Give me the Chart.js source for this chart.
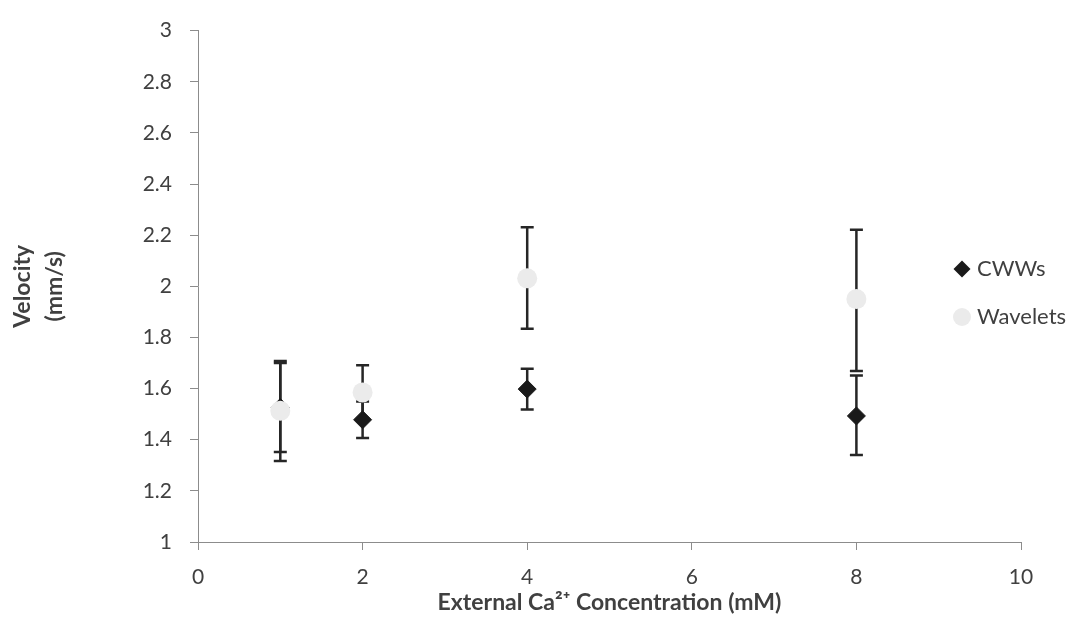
<!DOCTYPE html>
<html>
<head>
<meta charset="utf-8">
<script src="https://cdn.jsdelivr.net/npm/chart.js@4.4.1/dist/chart.umd.min.js"></script>
<style>
html, body { margin: 0; padding: 0; background: #fff; }
#wrap { width: 1081px; height: 633px; }
</style>
</head>
<body>
<div id="wrap"><canvas id="grafico"></canvas></div>
<script>
// DADOS
const concentracoes = [1, 2, 4, 8];

const cwwMedia = [1.526, 1.478, 1.598, 1.493];
const cwwBaixo = [1.352, 1.407, 1.518, 1.340];
const cwwAlto  = [1.700, 1.549, 1.678, 1.651];

const waveletMedia = [1.513, 1.585, 2.031, 1.950];
const waveletBaixo = [1.317, 1.480, 1.834, 1.669];
const waveletAlto  = [1.708, 1.691, 2.231, 2.221];

const ticksX = [0, 2, 4, 6, 8, 10];
const ticksY = [1, 1.2, 1.4, 1.6, 1.8, 2, 2.2, 2.4, 2.6, 2.8, 3];

const pontos = (xs, ys) => xs.map((x, i) => ({ x: x, y: ys[i] }));

Chart.defaults.font.family = "Lato";
Chart.defaults.color = "#404040";

// BARRAS DE ERRO (desenhadas antes dos pontos)
const barrasErro = {
    id: "barrasErro",
    beforeDatasetsDraw(chart) {
        const ctx = chart.ctx;
        const sx = chart.scales.x, sy = chart.scales.y;
        ctx.save();
        ctx.strokeStyle = "#262626";
        ctx.lineWidth = 2.5;
        chart.data.datasets.forEach(ds => {
            ds.data.forEach((p, i) => {
                const px = sx.getPixelForValue(p.x);
                const lo = sy.getPixelForValue(ds.errBaixo[i]);
                const hi = sy.getPixelForValue(ds.errAlto[i]);
                ctx.beginPath();
                ctx.moveTo(px, lo); ctx.lineTo(px, hi);
                ctx.moveTo(px - 6.5, lo); ctx.lineTo(px + 6.5, lo);
                ctx.moveTo(px - 6.5, hi); ctx.lineTo(px + 6.5, hi);
                ctx.stroke();
            });
        });
        ctx.restore();
    }
};

// LEGENDA
const legenda = {
    id: "legenda",
    afterDraw(chart) {
        const ctx = chart.ctx;
        const xm = chart.chartArea.right - 59;
        const linhas = [269, 317];
        ctx.save();
        ctx.font = "22px Lato";
        ctx.textBaseline = "middle";
        ctx.textAlign = "left";
        chart.data.datasets.forEach((ds, i) => {
            const y = linhas[i];
            ctx.fillStyle = ds.backgroundColor;
            ctx.beginPath();
            if (ds.pointStyle === "rectRot") {
                ctx.moveTo(xm - 8.5, y); ctx.lineTo(xm, y - 8.5);
                ctx.lineTo(xm + 8.5, y); ctx.lineTo(xm, y + 8.5);
                ctx.closePath();
            } else {
                ctx.arc(xm, y, 9, 0, Math.PI * 2);
            }
            ctx.fill();
            ctx.fillStyle = "#404040";
            ctx.fillText(ds.label, xm + 15, y);
        });
        ctx.restore();
    }
};

new Chart(document.getElementById("grafico"), {
    type: "scatter",
    data: {
        datasets: [
            {
                label: "CWWs",
                data: pontos(concentracoes, cwwMedia),
                errBaixo: cwwBaixo,
                errAlto: cwwAlto,
                pointStyle: "rectRot",
                pointRadius: 9,
                backgroundColor: "#1a1a1a",
                borderColor: "#1a1a1a",
                borderWidth: 1,
                order: 1
            },
            {
                label: "Wavelets",
                data: pontos(concentracoes, waveletMedia),
                errBaixo: waveletBaixo,
                errAlto: waveletAlto,
                pointStyle: "circle",
                pointRadius: 10,
                backgroundColor: "#ebebeb",
                borderWidth: 0,
                order: 0
            }
        ]
    },
    options: {
        responsive: true,
        maintainAspectRatio: false,
        animation: false,
        events: [],
        layout: { padding: { left: 0, right: 60, top: 20, bottom: 0 } },
        plugins: {
            legend: { display: false },
            tooltip: { enabled: false }
        },
        scales: {
            x: {
                type: "linear",
                min: 0,
                max: 10,
                afterBuildTicks: s => { s.ticks = ticksX.map(v => ({ value: v })); },
                afterFit: s => { s.height = 91; },
                ticks: { font: { size: 21 }, color: "#404040", padding: 15 },
                grid: { drawOnChartArea: false, tickLength: 8, color: "#8c8c8c" },
                border: { color: "#8c8c8c", width: 1 },
                title: {
                    display: true,
                    text: "External Ca²⁺ Concentration (mM)",
                    font: { size: 23, weight: "bold" },
                    color: "#404040",
                    padding: { top: 0, bottom: 17 }
                }
            },
            y: {
                type: "linear",
                min: 1,
                max: 3,
                afterBuildTicks: s => { s.ticks = ticksY.map(v => ({ value: v })); },
                afterFit: s => { s.width = 198; },
                ticks: {
                    font: { size: 21 },
                    color: "#404040",
                    padding: 18,
                    callback: v => String(+v.toFixed(1))
                },
                grid: { drawOnChartArea: false, tickLength: 8, color: "#8c8c8c" },
                border: { color: "#8c8c8c", width: 1 },
                title: {
                    display: true,
                    text: ["Velocity", "(mm/s)"],
                    font: { size: 23, weight: "bold", lineHeight: 1.39 },
                    color: "#404040",
                    padding: { top: 7, bottom: 0 }
                }
            }
        }
    },
    plugins: [barrasErro, legenda]
});
</script>
</body>
</html>
